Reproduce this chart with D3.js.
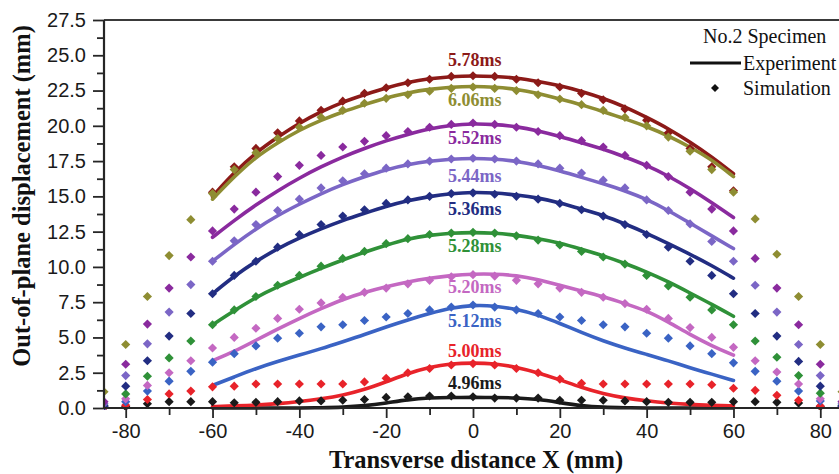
<!DOCTYPE html>
<html><head><meta charset="utf-8">
<script src="https://cdn.jsdelivr.net/npm/d3@7"></script>
<style>body{margin:0;background:#fff}svg{display:block}</style>
</head><body>
<svg id="chart" width="839" height="474"></svg>
<script>
// ---------- data ----------
const seriesNames = ["4.96ms","5.00ms","5.12ms","5.20ms","5.28ms","5.36ms","5.44ms","5.52ms","5.78ms","6.06ms"];
const seriesColors = ["#1a1a1a","#e8232a","#3a63c4","#c468c2","#2f9138","#222d82","#7b66c6","#8a2a9e","#8c1a18","#8e8d32"];
const labelY = [1.35, 3.6, 5.75, 8.15, 11.05, 13.7, 16.0, 18.7, 24.25, 21.4];

const expX = [-60,-55,-50,-45,-40,-35,-30,-25,-20,-15,-10,-5,0,5,10,15,20,25,30,35,40,45,50,55,60];
const exp496 = [0,0,0,0,0,0.02,0.05,0.15,0.35,0.6,0.72,0.75,0.75,0.75,0.72,0.62,0.38,0.15,0.05,0.02,0,0,0,0,0];
const exp500 = [0.1,0.15,0.2,0.3,0.45,0.65,0.9,1.3,1.85,2.45,2.9,3.15,3.2,3.15,2.9,2.5,2.0,1.45,1.0,0.7,0.5,0.35,0.25,0.2,0.15];
const exp512 = [1.6,2.2,2.8,3.3,3.75,4.2,4.7,5.2,5.75,6.25,6.7,7.1,7.3,7.25,7.0,6.6,6.0,5.35,4.75,4.25,3.8,3.35,2.85,2.4,1.95];
const exp520 = [3.35,4.0,4.8,5.6,6.35,7.05,7.7,8.2,8.6,8.95,9.2,9.4,9.5,9.5,9.4,9.1,8.7,8.3,7.9,7.4,6.9,6.1,5.2,4.4,3.75];
const exp528 = [5.9,6.9,7.85,8.6,9.25,9.9,10.5,11.05,11.55,12.0,12.25,12.4,12.45,12.4,12.25,12.0,11.7,11.25,10.8,10.25,9.65,8.95,8.15,7.35,6.5];
const exp536 = [8.1,9.35,10.4,11.3,12.05,12.7,13.3,13.8,14.3,14.7,15.0,15.2,15.3,15.25,15.1,14.9,14.55,14.1,13.65,13.05,12.4,11.65,10.9,10.1,9.2];
const exp544 = [10.4,11.6,12.7,13.65,14.45,15.2,15.85,16.4,16.9,17.25,17.5,17.65,17.7,17.65,17.5,17.2,16.8,16.35,15.9,15.4,14.8,14.0,13.1,12.2,11.3];
const exp552 = [12.1,13.3,14.4,15.4,16.3,17.1,17.8,18.4,18.95,19.4,19.8,20.05,20.15,20.1,19.95,19.65,19.25,18.8,18.35,17.8,17.2,16.45,15.55,14.55,13.5];
const exp578 = [15.0,16.7,18.1,19.2,20.2,21.0,21.7,22.2,22.7,23.1,23.35,23.5,23.55,23.5,23.4,23.15,22.85,22.45,21.95,21.35,20.6,19.8,18.85,17.8,16.6];
const exp606 = [14.8,16.4,17.8,18.8,19.7,20.4,21.0,21.5,22.0,22.35,22.6,22.75,22.8,22.75,22.6,22.3,21.9,21.5,21.0,20.5,19.95,19.3,18.5,17.6,16.4];

const simX = [-85,-80,-75,-70,-65,-60,-55,-50,-45,-40,-35,-30,-25,-20,-15,-10,-5,0,5,10,15,20,25,30,35,40,45,50,55,60,65,70,75,80,85];
const sim496 = [0.05,0.1,0.3,0.45,0.45,0.45,0.37,0.4,0.45,0.5,0.5,0.55,0.6,0.75,0.8,0.85,0.85,0.8,0.7,0.7,0.7,0.55,0.55,0.55,0.5,0.45,0.4,0.4,0.4,0.45,0.45,0.4,0.35,0.1,0.05];
const sim500 = [0.05,0.2,0.6,1.0,1.2,1.5,1.55,1.7,1.7,1.7,1.7,1.7,1.85,2.1,2.5,2.8,3.05,3.15,3.05,2.8,2.5,2.05,1.75,1.7,1.7,1.7,1.7,1.7,1.65,1.4,1.25,0.9,0.55,0.15,0.05];
const sim512 = [0.1,0.45,1.2,1.9,2.6,3.25,3.85,4.4,4.95,5.3,5.75,5.9,6.2,6.45,6.7,6.95,7.15,7.3,7.15,6.95,6.7,6.45,6.2,5.9,5.75,5.3,4.95,4.4,3.85,3.2,2.6,1.9,1.2,0.5,0.1];
const sim520 = [0.1,0.65,1.6,2.5,3.35,4.25,5.0,5.65,6.35,7.0,7.45,7.85,8.2,8.5,8.8,9.05,9.3,9.45,9.35,9.05,8.8,8.5,8.2,7.85,7.4,7.0,6.35,5.7,5.0,4.3,3.35,2.55,1.7,0.65,0.1];
const sim528 = [0.2,1.0,2.25,3.55,4.75,5.9,6.95,7.9,8.7,9.4,10.05,10.6,11.1,11.65,12.0,12.3,12.4,12.45,12.4,12.2,11.9,11.55,11.1,10.7,10.2,9.4,8.65,7.85,6.95,5.9,4.75,3.6,2.3,1.05,0.2];
const sim536 = [0.15,1.55,3.35,5.1,6.7,8.1,9.4,10.4,11.4,12.3,13.0,13.6,14.05,14.5,14.75,15.0,15.2,15.25,15.15,15.0,14.8,14.5,14.05,13.6,13.0,12.3,11.4,10.4,9.4,8.1,6.7,5.1,3.3,1.55,0.15];
const sim544 = [0.3,2.3,4.55,6.8,8.75,10.4,11.85,13.0,14.0,14.8,15.6,16.1,16.6,17.0,17.3,17.5,17.65,17.7,17.65,17.5,17.3,17.0,16.65,16.15,15.6,14.75,14.0,13.05,11.8,10.4,8.7,6.8,4.5,2.3,0.3];
const sim552 = [0.45,3.1,5.95,8.5,10.7,12.55,14.1,15.3,16.4,17.2,17.9,18.5,18.9,19.3,19.6,19.9,20.1,20.2,20.1,19.9,19.6,19.3,18.95,18.5,17.9,17.2,16.4,15.3,14.1,12.55,10.6,8.5,5.9,3.1,0.45];
const sim578 = [null,null,null,null,null,15.3,17.1,18.4,19.5,20.35,21.1,21.75,22.3,22.7,23.05,23.3,23.5,23.55,23.5,23.3,23.05,22.75,22.3,21.85,21.2,20.4,19.5,18.4,17.1,15.4,null,null,null,null,null];
const sim606 = [1.15,4.5,7.9,10.8,13.35,15.2,16.9,18.1,19.1,19.9,20.6,21.1,21.6,21.95,22.2,22.45,22.65,22.75,22.65,22.5,22.2,21.9,21.5,21.1,20.6,20.0,19.2,18.2,16.9,15.3,13.4,10.9,7.9,4.5,1.15];

const expSeries = [exp496,exp500,exp512,exp520,exp528,exp536,exp544,exp552,exp578,exp606];
const simSeries = [sim496,sim500,sim512,sim520,sim528,sim536,sim544,sim552,sim578,sim606];

const xTickMajor = [-80,-60,-40,-20,0,20,40,60,80];
const xTickMinor = [-70,-50,-30,-10,10,30,50,70];
const yTickMajor = [0,2.5,5,7.5,10,12.5,15,17.5,20,22.5,25,27.5];
const yTickMinor = [1.25,3.75,6.25,8.75,11.25,13.75,16.25,18.75,21.25,23.75,26.25];

const legendTitle = "No.2 Specimen";
const legendItems = ["Experiment","Simulation"];
const xTitle = "Transverse distance X (mm)";
const yTitle = "Out-of-plane displacement (mm)";

// ---------- drawing ----------
const svg = d3.select("#chart");
const L = 104, R = 842, T = 20, B = 408;
const x = d3.scaleLinear().domain([-85, 85]).range([L, R]);
const y = d3.scaleLinear().domain([0, 27.5]).range([B, T]);
const axisColor = "#262626";

svg.append("defs").append("clipPath").attr("id","plotclip")
  .append("rect").attr("x", L).attr("y", 0).attr("width", 839 - L).attr("height", B + 2);

const plot = svg.append("g").attr("clip-path","url(#plotclip)");

// lines
const line = d3.line().defined(d => d[1] != null)
  .x(d => x(d[0])).y(d => y(d[1])).curve(d3.curveBasis);
expSeries.forEach((vals, i) => {
  plot.append("path")
    .datum(expX.map((xv, k) => [xv, vals[k]]))
    .attr("d", line).attr("fill","none")
    .attr("stroke", seriesColors[i]).attr("stroke-width", 3.6)
    .attr("stroke-linecap","round").attr("stroke-linejoin","round");
});

// points
const diamond = d3.symbol().type(d3.symbolSquare).size(42);
simSeries.forEach((vals, i) => {
  plot.append("g").selectAll("path")
    .data(simX.map((xv, k) => [xv, vals[k]]).filter(d => d[1] != null))
    .join("path")
    .attr("d", diamond)
    .attr("transform", d => `translate(${x(d[0])},${y(d[1])}) rotate(45)`)
    .attr("fill", seriesColors[i]);
});

// series labels
seriesNames.forEach((s, i) => {
  svg.append("text").attr("x", x(0.4)).attr("y", y(labelY[i]))
    .attr("text-anchor","middle")
    .attr("font-family","'Liberation Serif', 'Times New Roman', serif")
    .attr("font-weight","bold").attr("font-size", 18)
    .attr("fill", seriesColors[i]).text(s);
});

// axes
const xAxisMajor = d3.axisBottom(x).tickValues(xTickMajor).tickSize(10).tickSizeOuter(0).tickPadding(6).tickFormat(d => String(d));
const xAxisMinor = d3.axisBottom(x).tickValues(xTickMinor).tickSize(7).tickSizeOuter(0).tickFormat("");
const yAxisMajor = d3.axisLeft(y).tickValues(yTickMajor).tickSize(11).tickSizeOuter(0).tickPadding(7).tickFormat(d3.format(".1f"));
const yAxisMinor = d3.axisLeft(y).tickValues(yTickMinor).tickSize(7).tickSizeOuter(0).tickFormat("");

function styleAxis(g){
  g.select(".domain").remove();
  g.selectAll("line").attr("stroke", axisColor).attr("stroke-width", 1.8);
  g.selectAll("text").attr("font-family","'Liberation Sans', Arial, sans-serif")
    .attr("font-size", 20).attr("fill","#1a1a1a");
}
svg.append("g").attr("transform",`translate(0,${B})`).call(xAxisMinor).call(styleAxis);
svg.append("g").attr("transform",`translate(0,${B})`).call(xAxisMajor).call(styleAxis);
svg.append("g").attr("transform",`translate(${L},0)`).call(yAxisMinor).call(styleAxis);
svg.append("g").attr("transform",`translate(${L},0)`).call(yAxisMajor).call(styleAxis);

// frame lines
svg.append("line").attr("x1", L).attr("x2", 839).attr("y1", B).attr("y2", B)
  .attr("stroke", axisColor).attr("stroke-width", 2.2);
svg.append("line").attr("x1", L).attr("x2", 839).attr("y1", T).attr("y2", T)
  .attr("stroke", "#3a3a3a").attr("stroke-width", 2.2);
svg.append("line").attr("x1", L).attr("x2", L).attr("y1", T).attr("y2", B)
  .attr("stroke", axisColor).attr("stroke-width", 2.2);

// axis titles
svg.append("text").attr("x", 476).attr("y", 468).attr("text-anchor","middle")
  .attr("font-family","'Liberation Serif', 'Times New Roman', serif")
  .attr("font-weight","bold").attr("font-size", 24.5).attr("fill","#111").text(xTitle);
svg.append("text").attr("transform","translate(30,196) rotate(-90)").attr("text-anchor","middle")
  .attr("font-family","'Liberation Serif', 'Times New Roman', serif")
  .attr("font-weight","bold").attr("font-size", 24.5).attr("fill","#111").text(yTitle);

// legend
const lg = svg.append("g").attr("font-family","'Liberation Serif', 'Times New Roman', serif")
  .attr("font-size", 20).attr("fill","#111");
lg.append("text").attr("x", 703).attr("y", 43).text(legendTitle);
lg.append("line").attr("x1", 690).attr("x2", 741).attr("y1", 63).attr("y2", 63)
  .attr("stroke","#111").attr("stroke-width", 3.2);
lg.append("text").attr("x", 743).attr("y", 70).text(legendItems[0]);
lg.append("path").attr("d", d3.symbol().type(d3.symbolSquare).size(32)())
  .attr("transform","translate(715,88) rotate(45)").attr("fill","#111");
lg.append("text").attr("x", 743).attr("y", 95).text(legendItems[1]);
</script>
</body></html>
